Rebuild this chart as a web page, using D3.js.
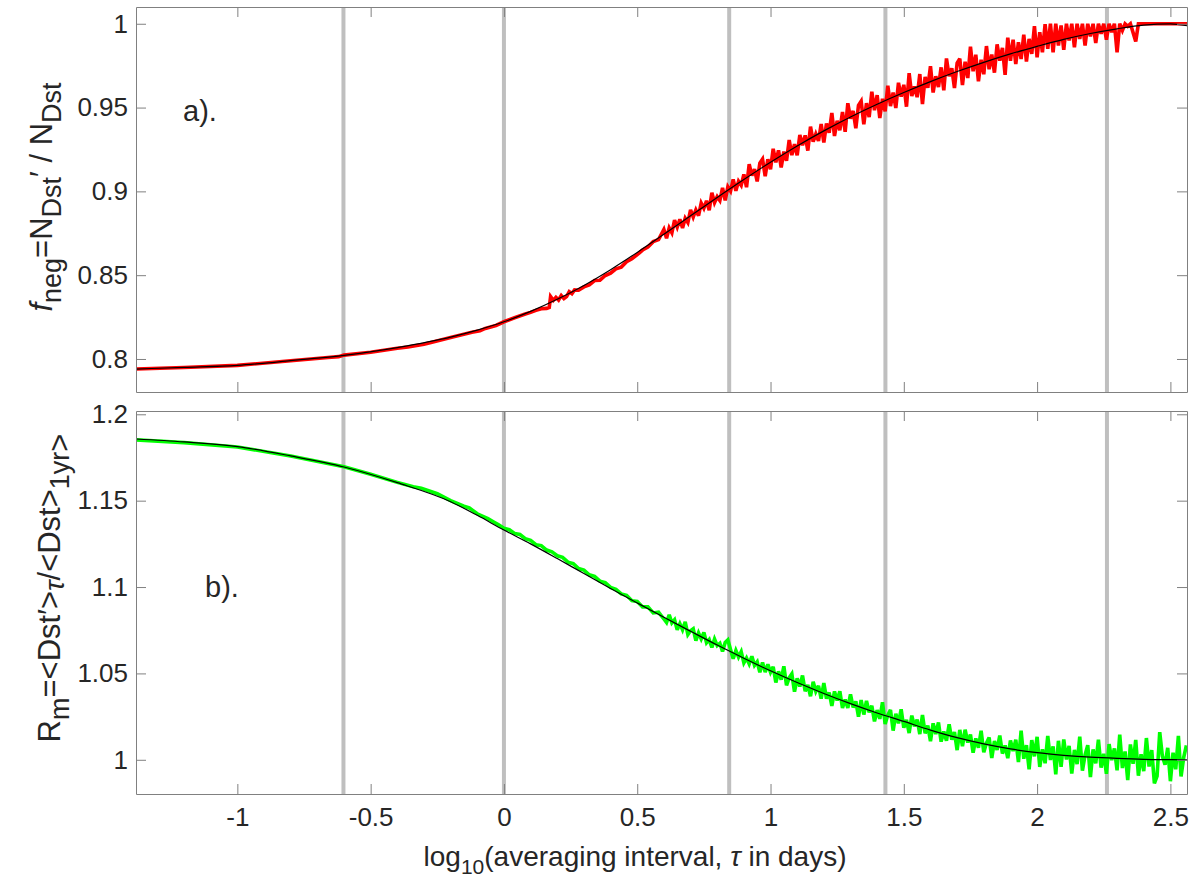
<!DOCTYPE html>
<html>
<head>
<meta charset="utf-8">
<script src="https://cdn.jsdelivr.net/npm/d3@7"></script>
<style>
  body { margin: 0; background: #fff; }
  svg text { font-family: "Liberation Sans", Arial, sans-serif; white-space: pre; }
</style>
</head>
<body>
<div id="cont"></div>
<script>
// Ticks and markers
var xTicks = [-1, -0.5, 0, 0.5, 1, 1.5, 2, 2.5];
var negTicks = [0.8, 0.85, 0.9, 0.95, 1];
var ratioTicks = [1, 1.05, 1.1, 1.15, 1.2];
// log10 of 6 h, 1 d, 7 d, 27 d, half a year
var markerLines = [-0.602, 0, 0.845, 1.431, 2.262];

// panel a) fit (black)
var negFit = [[-1.3802,0.7940],[-1.2,0.7950],[-1.0,0.7962],[-0.8,0.7990],[-0.6,0.8022],[-0.4,0.8068],[-0.2,0.8130],[-0.1,0.8172],
  [0,0.8222],[0.1,0.8284],[0.2,0.8356],[0.3,0.8439],[0.4,0.8533],[0.5,0.8636],[0.6,0.8744],[0.7,0.8854],[0.8,0.8964],[0.9,0.9071],
  [1.0,0.9174],[1.1,0.9271],[1.2,0.9361],[1.3,0.9444],[1.4,0.9520],[1.5,0.9590],[1.6,0.9655],[1.7,0.9715],[1.8,0.9770],[1.9,0.9820],
  [2.0,0.9865],[2.1,0.9907],[2.2,0.9942],[2.3,0.9970],[2.4,0.9992],[2.5,0.9999],[2.5623,0.9988]];

// panel a) f_neg (red)
var negData = [[-1.3802,0.7940],[-1.2,0.7949],[-1.0,0.7962],[-0.8,0.7989],[-0.66,0.8009],[-0.62,0.8014],[-0.6,0.8023],[-0.5,0.8040],
  [-0.4,0.8064],[-0.36,0.8072],[-0.3,0.8088],[-0.27,0.8100],[-0.2,0.8128],[-0.12,0.8160],[-0.09,0.8168],[-0.07,0.8182],[-0.03,0.8200],
  [0,0.8222],[0.04,0.8246],[0.08,0.8268],[0.10,0.8278],[0.12,0.8290],[0.14,0.8300],[0.16,0.8302],[0.17,0.8308],[0.175,0.8372],
  [0.185,0.8350],[0.195,0.8368],[0.205,0.8352],[0.215,0.8378],[0.225,0.8360],[0.235,0.8372],[0.245,0.8402],[0.255,0.8390],[0.265,0.8412],
  [0.28,0.8410],[0.30,0.8430],[0.32,0.8442],[0.34,0.8468],[0.36,0.8470],[0.38,0.8498],[0.40,0.8512],[0.42,0.8538],[0.44,0.8548],
  [0.46,0.8580],[0.48,0.8598],[0.50,0.8622],[0.52,0.8650],[0.54,0.8668],[0.56,0.8700],[0.58,0.8712],
  [0.60,0.8773],[0.61,0.8720],[0.62,0.8782],[0.63,0.8753],[0.64,0.8828],[0.65,0.8786],[0.66,0.8834],[0.67,0.8781],[0.68,0.8840],
  [0.69,0.8814],[0.70,0.8889],[0.71,0.8846],[0.72,0.8889],[0.73,0.8855],[0.74,0.8930],[0.75,0.8899],[0.76,0.8944],[0.77,0.8887],
  [0.78,0.8992],[0.79,0.8933],[0.80,0.8968],[0.81,0.8945],[0.82,0.9021],[0.83,0.8946],[0.84,0.9027],[0.85,0.9002],[0.86,0.9072],
  [0.87,0.9003],[0.88,0.9060],[0.89,0.9036],[0.90,0.9101],
  [0.91,0.9025],[0.92,0.9162],[0.93,0.9094],[0.94,0.9132],[0.95,0.9059],[0.96,0.9169],[0.97,0.9193],[0.98,0.9090],[0.99,0.9192],
  [1.00,0.9132],[1.01,0.9254],[1.02,0.9173],[1.03,0.9245],[1.04,0.9143],[1.05,0.9237],[1.06,0.9182],[1.07,0.9306],[1.08,0.9216],
  [1.09,0.9281],[1.10,0.9215],[1.11,0.9336],[1.12,0.9275],[1.13,0.9334],[1.14,0.9243],[1.15,0.9386],[1.16,0.9297],[1.17,0.9342],
  [1.18,0.9301],[1.19,0.9402],[1.20,0.9291],
  [1.21,0.9405],[1.22,0.9350],[1.23,0.9468],[1.24,0.9330],[1.25,0.9421],[1.26,0.9365],[1.27,0.9473],[1.28,0.9355],[1.29,0.9526],
  [1.30,0.9434],[1.31,0.9480],[1.32,0.9377],[1.33,0.9513],[1.34,0.9538],[1.35,0.9400],[1.36,0.9526],[1.37,0.9443],[1.38,0.9595],
  [1.39,0.9484],[1.40,0.9574],[1.41,0.9437],[1.42,0.9552],[1.43,0.9477],[1.44,0.9630],[1.45,0.9509],[1.46,0.9590],[1.47,0.9497],
  [1.48,0.9648],[1.49,0.9565],[1.50,0.9636],
  [1.51,0.9505],[1.52,0.9705],[1.53,0.9569],[1.54,0.9626],[1.55,0.9562],[1.56,0.9700],[1.57,0.9521],[1.58,0.9683],[1.59,0.9618],
  [1.60,0.9747],[1.61,0.9590],[1.62,0.9687],[1.63,0.9622],[1.64,0.9740],[1.65,0.9603],[1.66,0.9793],[1.67,0.9687],[1.68,0.9734],
  [1.69,0.9617],[1.70,0.9766],[1.71,0.9792],[1.72,0.9634],[1.73,0.9773],[1.74,0.9676],[1.75,0.9863],[1.76,0.9717],[1.77,0.9815],
  [1.78,0.9657],[1.79,0.9785],[1.80,0.9699],[1.81,0.9867],[1.82,0.9729],[1.83,0.9816],[1.84,0.9708],[1.85,0.9877],[1.86,0.9780],
  [1.87,0.9856],[1.88,0.9695],[1.89,0.9917],[1.90,0.9779],
  [1.91,0.9905],[1.92,0.9760],[1.93,0.9890],[1.94,0.9790],[1.95,0.9935],[1.96,0.9775],[1.97,0.9910],[1.98,0.9820],[1.99,0.9985],
  [2.00,0.9800],[2.01,0.9950],[2.02,0.9830],[2.03,0.9998],[2.04,0.9850],[2.05,1.0000],[2.06,0.9830],[2.07,1.0000],[2.08,0.9870],
  [2.09,0.9990],[2.10,0.9845],[2.11,1.0000],[2.12,0.9900],[2.13,1.0000],[2.14,0.9860],[2.15,1.0000],[2.16,0.9910],[2.17,1.0000],
  [2.18,0.9870],[2.19,1.0000],[2.20,0.9925],[2.21,1.0000],[2.22,0.9885],[2.23,1.0000],[2.24,0.9940],[2.25,1.0000],[2.26,0.9905],
  [2.27,1.0000],[2.28,0.9950],[2.29,1.0000],[2.30,0.9830],[2.31,1.0000],[2.32,0.9960],[2.33,1.0000],[2.34,0.9985],[2.35,1.0000],
  [2.37,0.9895],[2.38,1.0000],[2.45,1.0000],[2.52,1.0000],[2.5623,1.0000]];

// panel b) fit (black)
var ratioFit = [[-1.3802,1.1857],[-1.2,1.1840],[-1.0,1.1813],[-0.8,1.1759],[-0.6,1.1695],[-0.4,1.1604],[-0.2,1.1494],[-0.1,1.1415],
  [0,1.1330],[0.1,1.1250],[0.2,1.1165],[0.3,1.1078],[0.4,1.0992],[0.5,1.0908],[0.6,1.0825],[0.7,1.0744],[0.8,1.0664],[0.9,1.0588],
  [1.0,1.0515],[1.1,1.0447],[1.2,1.0384],[1.3,1.0325],[1.4,1.0271],[1.5,1.0222],[1.6,1.0172],[1.7,1.0128],[1.8,1.0092],[1.9,1.0063],
  [2.0,1.0041],[2.1,1.0026],[2.2,1.0015],[2.3,1.0008],[2.4,1.0003],[2.5,1.0001],[2.5623,1.0000]];

// panel b) R_m (green)
var ratioData = [[-1.3802,1.1852],[-1.2,1.1836],[-1.0,1.1811],[-0.8,1.1758],[-0.6,1.1696],[-0.5,1.1653],[-0.4,1.1606],[-0.34,1.1580],
  [-0.31,1.1572],[-0.25,1.1540],[-0.2,1.1500],[-0.15,1.1468],[-0.13,1.1458],[-0.1,1.1424],[-0.06,1.1396],[-0.04,1.1378],[-0.02,1.1360],
  [0,1.1340],[0.02,1.1332],[0.04,1.1310],[0.06,1.1304],[0.08,1.1280],[0.10,1.1270],[0.12,1.1245],[0.14,1.1240],[0.16,1.1214],
  [0.18,1.1204],[0.20,1.1181],[0.22,1.1172],[0.24,1.1144],[0.26,1.1135],[0.28,1.1107],[0.30,1.1098],[0.32,1.1071],[0.34,1.1062],
  [0.36,1.1034],[0.38,1.1025],[0.40,1.0998],[0.42,1.0987],[0.44,1.0960],[0.46,1.0952],[0.48,1.0921],[0.50,1.0916],[0.52,1.0885],
  [0.54,1.0885],[0.56,1.0850],[0.58,1.0854],[0.60,1.0815],
  [0.61,1.0795],[0.62,1.0839],[0.63,1.0793],[0.64,1.0811],[0.65,1.0752],[0.66,1.0788],[0.67,1.0753],[0.68,1.0798],[0.69,1.0725],
  [0.70,1.0747],[0.71,1.0758],[0.72,1.0690],[0.73,1.0735],[0.74,1.0700],[0.75,1.0737],[0.76,1.0678],[0.77,1.0696],[0.78,1.0650],
  [0.79,1.0699],[0.80,1.0661],[0.81,1.0674],[0.82,1.0627],[0.83,1.0679],[0.84,1.0694],[0.85,1.0638],[0.86,1.0585],[0.87,1.0633],
  [0.88,1.0595],[0.89,1.0626],[0.90,1.0561],[0.91,1.0589],[0.92,1.0555],[0.93,1.0599],[0.94,1.0547],[0.95,1.0567],[0.96,1.0506],
  [0.97,1.0564],[0.98,1.0508],[0.99,1.0552],[1.00,1.0507],
  [1.01,1.0539],[1.02,1.0447],[1.03,1.0512],[1.04,1.0464],[1.05,1.0541],[1.06,1.0431],[1.07,1.0474],[1.08,1.0497],[1.09,1.0394],
  [1.10,1.0471],[1.11,1.0424],[1.12,1.0488],[1.13,1.0397],[1.14,1.0434],[1.15,1.0368],[1.16,1.0452],[1.17,1.0396],[1.18,1.0428],
  [1.19,1.0354],[1.20,1.0444],[1.21,1.0354],[1.22,1.0389],[1.23,1.0312],[1.24,1.0396],[1.25,1.0343],[1.26,1.0397],[1.27,1.0300],
  [1.28,1.0349],[1.29,1.0300],[1.30,1.0379],[1.31,1.0303],[1.32,1.0338],[1.33,1.0249],[1.34,1.0346],[1.35,1.0262],[1.36,1.0341],
  [1.37,1.0275],[1.38,1.0313],[1.39,1.0222],[1.40,1.0288],
  [1.41,1.0237],[1.42,1.0333],[1.43,1.0207],[1.44,1.0259],[1.45,1.0289],[1.46,1.0169],[1.47,1.0266],[1.48,1.0211],[1.49,1.0292],
  [1.50,1.0186],[1.51,1.0231],[1.52,1.0155],[1.53,1.0256],[1.54,1.0194],[1.55,1.0233],[1.56,1.0149],[1.57,1.0259],[1.58,1.0153],
  [1.59,1.0198],[1.60,1.0107],[1.61,1.0211],[1.62,1.0149],[1.63,1.0216],[1.64,1.0105],[1.65,1.0164],[1.66,1.0110],[1.67,1.0206],
  [1.68,1.0116],[1.69,1.0161],[1.70,1.0056],[1.71,1.0173],[1.72,1.0078],[1.73,1.0174],[1.74,1.0100],[1.75,1.0146],[1.76,1.0041],
  [1.77,1.0124],[1.78,1.0070],[1.79,1.0168],[1.80,1.0043],[1.81,1.0097],[1.82,1.0129],[1.83,1.0011],[1.84,1.0109],[1.85,1.0057],
  [1.86,1.0140],[1.87,1.0036],[1.88,1.0083],[1.89,1.0009],[1.90,1.0112],
  [1.91,1.0050],[1.92,1.0116],[1.93,0.9987],[1.94,1.0169],[1.95,1.0006],[1.96,1.0085],[1.97,0.9945],[1.98,1.0114],[1.99,1.0020],
  [2.00,1.0133],[2.01,0.9959],[2.02,1.0061],[2.03,0.9980],[2.04,1.0138],[2.05,0.9999],[2.06,1.0078],[2.07,0.9916],[2.08,1.0110],
  [2.09,0.9959],[2.10,1.0118],[2.11,1.0002],[2.12,1.0081],[2.13,0.9920],[2.14,1.0057],[2.15,0.9975],[2.16,1.0134],[2.17,0.9937],
  [2.18,1.0028],[2.19,1.0085],[2.20,0.9900],[2.21,1.0060],[2.22,0.9979],[2.23,1.0116],[2.24,0.9955],[2.25,1.0035],[2.26,0.9919],
  [2.27,1.0091],[2.28,0.9998],[2.29,1.0066],[2.30,0.9939],[2.31,1.0146],[2.32,0.9952],[2.33,1.0048],[2.34,0.9882],[2.35,1.0089],
  [2.36,0.9977],[2.37,1.0115],[2.38,0.9908],[2.39,1.0032],[2.40,0.9934],[2.41,1.0126],[2.42,0.9961],[2.43,1.0056],[2.44,0.9863],
  [2.45,0.9905],[2.46,1.0160],[2.47,1.0020],[2.48,0.9972],[2.49,1.0069],[2.50,0.9876],[2.51,1.0041],[2.52,0.9945],[2.53,1.0138],
  [2.54,0.9904],[2.55,1.0014],[2.56,1.0083]];

// Layout
var W = 1203, H = 886;
var left = 136, right = 1187;
var axisCol = "#808080", textCol = "#262626";

var svg = d3.select("#cont").append("svg")
    .attr("width", W)
    .attr("height", H);

var x = d3.scaleLinear().domain([-1.3802, 2.5623]).range([left, right]);
var yNeg = d3.scaleLinear().domain([0.7803, 1.0100]).range([392, 7]);
var yRatio = d3.scaleLinear().domain([0.9802, 1.2019]).range([794, 411]);

// builds a text line with sub/super shifts out of tspans
function richText(sel, parts, size) {
    var t = sel.append("text")
        .attr("text-anchor", "middle")
        .attr("font-size", size)
        .attr("fill", textCol);
    var prev = 0;
    parts.forEach(function(p) {
        var s = p.shift || 0;
        var ts = t.append("tspan").text(p.t).attr("dy", s - prev);
        if (p.size) ts.attr("font-size", p.size);
        if (p.it) ts.attr("font-style", "italic");
        prev = s;
    });
    return t;
}

function drawPanel(id, y, yTicks, fit, data, color, showX) {
    var top = y.range()[1], bottom = y.range()[0];
    var g = svg.append("g");

    g.append("clipPath").attr("id", "clip-" + id)
      .append("rect")
        .attr("x", left).attr("y", top)
        .attr("width", right - left).attr("height", bottom - top);

    // marker intervals
    g.selectAll(".marker")
        .data(markerLines)
      .enter().append("line")
        .attr("x1", function(d) { return x(d); })
        .attr("x2", function(d) { return x(d); })
        .attr("y1", top).attr("y2", bottom)
        .attr("stroke", "#bfbfbf")
        .attr("stroke-width", 4);

    var line = d3.line()
        .x(function(d) { return x(d[0]); })
        .y(function(d) { return y(d[1]); });

    var plot = g.append("g").attr("clip-path", "url(#clip-" + id + ")");

    plot.append("path")
        .datum(data)
        .attr("d", line)
        .attr("fill", "none")
        .attr("stroke", color)
        .attr("stroke-width", 3.6)
        .attr("stroke-linejoin", "miter")
        .attr("stroke-miterlimit", 3);

    plot.append("path")
        .datum(fit)
        .attr("d", line.curve(d3.curveMonotoneX))
        .attr("fill", "none")
        .attr("stroke", "#000")
        .attr("stroke-width", 1.2);

    var fmt = function(d) { return String(d); };

    // box with inward ticks
    var ax = [
        g.append("g").attr("transform", "translate(0," + bottom + ")")
            .call(d3.axisBottom(x).tickValues(xTicks).tickSize(-10).tickSizeOuter(0)
                .tickPadding(14).tickFormat(showX ? fmt : "")),
        g.append("g").attr("transform", "translate(0," + top + ")")
            .call(d3.axisTop(x).tickValues(xTicks).tickSize(-10).tickSizeOuter(0).tickFormat("")),
        g.append("g").attr("transform", "translate(" + left + ",0)")
            .call(d3.axisLeft(y).tickValues(yTicks).tickSize(-10).tickSizeOuter(0)
                .tickPadding(8).tickFormat(fmt)),
        g.append("g").attr("transform", "translate(" + right + ",0)")
            .call(d3.axisRight(y).tickValues(yTicks).tickSize(-10).tickSizeOuter(0).tickFormat(""))
    ];
    ax.forEach(function(a) {
        a.attr("color", axisCol);
        a.selectAll("text")
            .attr("fill", textCol)
            .attr("font-size", 26)
            .style("font-family", "'Liberation Sans', Arial, sans-serif");
    });
    return g;
}

drawPanel("a", yNeg, negTicks, negFit, negData, "#ff0000", false);
drawPanel("b", yRatio, ratioTicks, ratioFit, ratioData, "#00ff00", true);

// panel tags
svg.append("text").attr("x", 183).attr("y", 121)
    .attr("font-size", 29).attr("fill", textCol).text("a).");
svg.append("text").attr("x", 205).attr("y", 597)
    .attr("font-size", 29).attr("fill", textCol).text("b).");

// axis titles
richText(svg.append("g").attr("transform", "translate(635,866)"), [
    {t: "log"}, {t: "10", shift: 8, size: 21},
    {t: "(averaging interval, "}, {t: "\u03c4", it: true}, {t: " in days)"}
], 28);

richText(svg.append("g").attr("transform", "translate(52,197) rotate(-90)"), [
    {t: "f", it: true}, {t: "neg", shift: 9, size: 27},
    {t: "=N"}, {t: "Dst", shift: 9, size: 27},
    {t: "\u2032 / N"}, {t: "Dst", shift: 9, size: 27}
], 31);

richText(svg.append("g").attr("transform", "translate(60,588) rotate(-90)"), [
    {t: "R"}, {t: "m", shift: 9, size: 27},
    {t: "=<Dst\u2032>"}, {t: "\u03c4", shift: 4, size: 28, it: true},
    {t: "/<Dst>"}, {t: "1yr", shift: 9, size: 27}, {t: ">", shift: 10}
], 31);
</script>
</body>
</html>
